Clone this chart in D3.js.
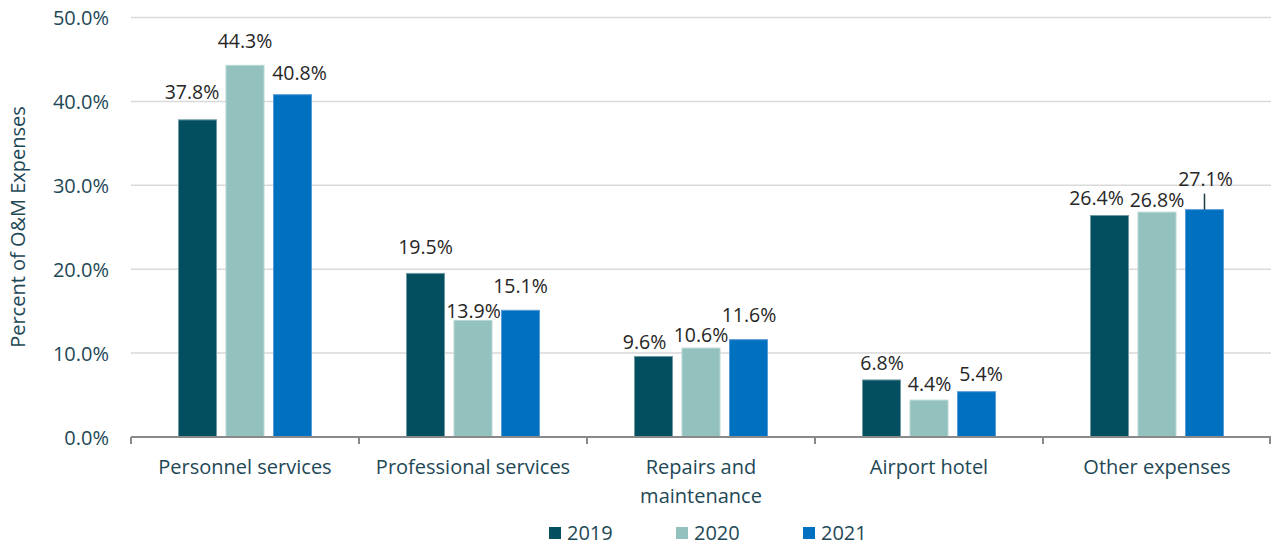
<!DOCTYPE html>
<html>
<head>
<meta charset="utf-8">
<script src="https://cdn.jsdelivr.net/npm/d3@7"></script>
<style>
  html, body { margin: 0; padding: 0; background: #fff; }
  svg { display: block; font-family: "Open Sans", "Noto Sans", sans-serif; }
</style>
</head>
<body>
<svg id="chart" width="1271" height="546"></svg>
<script>
// ---- data ----
const categories = ["Personnel services", "Professional services", "Repairs and maintenance", "Airport hotel", "Other expenses"];
const seriesNames = ["2019", "2020", "2021"];
const values2019 = [37.8, 19.5, 9.6, 6.8, 26.4];
const values2020 = [44.3, 13.9, 10.6, 4.4, 26.8];
const values2021 = [40.8, 15.1, 11.6, 5.4, 27.1];
const yTicks = [0, 10, 20, 30, 40, 50];

// ---- layout / style (not data) ----
const colors = ["#034f5f", "#93c1be", "#0070c0"];
const strokes = ["#6f9aa3", "#b9d8d6", "#5b9bd5"];
// label offsets relative to bar centre / bar top (Excel-style placement)
const labelDx = [[-5.5, 0, 7], [0, 0.5, 0], [-9, 0, 0.5], [0.5, 0.5, 4.5], [-13, 0, 1]];
const labelDy = [[-28, -24, -22], [-26, -9, -24], [-14, -12.5, -24.5], [-17, -16, -18], [-17.5, -12, -30]];
const leader = [[false, false, false], [false, false, false], [false, false, false], [false, false, false], [false, false, true]];

const allValues = [values2019, values2020, values2021];
const svg = d3.select("#chart");
const plotLeft = 131, plotRight = 1271, plotTop = 17.5, plotBottom = 437;

const x0 = d3.scaleBand().domain(categories).range([plotLeft, plotRight]).paddingInner(0).paddingOuter(0);
const groupW = 142.5;
const x1 = d3.scaleBand().domain(seriesNames).range([-groupW / 2, groupW / 2]).paddingInner(0.2).paddingOuter(0.1);
const y = d3.scaleLinear().domain([0, 50]).range([plotBottom, plotTop]);

// gridlines
svg.append("g")
  .selectAll("line")
  .data(yTicks.filter(t => t > 0))
  .join("line")
  .attr("x1", plotLeft).attr("x2", plotRight)
  .attr("y1", d => y(d)).attr("y2", d => y(d))
  .attr("stroke", "#d9d9d9").attr("stroke-width", 1.5);

// y axis labels
const yAxis = d3.axisLeft(y).tickValues(yTicks).tickFormat(d => d.toFixed(1) + "%").tickSize(0).tickPadding(0);
const yg = svg.append("g").attr("transform", `translate(109,0)`).call(yAxis);
yg.select(".domain").remove();
yg.selectAll("text").attr("font-size", 20).attr("fill", "#1e4856").attr("font-family", "Open Sans").attr("dy", "0.35em");

// y title
svg.append("text")
  .attr("transform", `translate(25,227) rotate(-90)`)
  .attr("text-anchor", "middle")
  .attr("font-size", 20)
  .attr("fill", "#1e4856")
  .text("Percent of O&M Expenses");

// bars
const rows = categories.map((c, ci) => seriesNames.map((s, si) => ({ c, ci, s, si, v: allValues[si][ci] })));
const gGroups = svg.append("g").selectAll("g")
  .data(rows).join("g")
  .attr("transform", d => `translate(${x0(d[0].c) + x0.bandwidth() / 2},0)`);

gGroups.selectAll("rect")
  .data(d => d).join("rect")
  .attr("x", d => x1(d.s))
  .attr("width", x1.bandwidth())
  .attr("y", d => y(d.v))
  .attr("height", d => y(0) - y(d.v))
  .attr("fill", d => colors[d.si])
  .attr("stroke", d => strokes[d.si])
  .attr("stroke-width", 1);

// leader lines
gGroups.selectAll("line.leader")
  .data(d => d.filter(e => leader[e.ci][e.si])).join("line")
  .attr("class", "leader")
  .attr("x1", d => x1(d.s) + x1.bandwidth() / 2)
  .attr("x2", d => x1(d.s) + x1.bandwidth() / 2)
  .attr("y1", d => y(d.v) + labelDy[d.ci][d.si] + 14)
  .attr("y2", d => y(d.v))
  .attr("stroke", "#1e3a44").attr("stroke-width", 1.5);

// data labels
gGroups.selectAll("text.lbl")
  .data(d => d).join("text")
  .attr("class", "lbl")
  .attr("x", d => x1(d.s) + x1.bandwidth() / 2 + labelDx[d.ci][d.si])
  .attr("y", d => y(d.v) + labelDy[d.ci][d.si])
  .attr("dy", "0.35em")
  .attr("text-anchor", "middle")
  .attr("font-size", 19.5)
  .attr("fill", "#262626")
  .text(d => d.v.toFixed(1) + "%");

// x axis
svg.append("line")
  .attr("x1", plotLeft).attr("x2", plotRight).attr("y1", plotBottom).attr("y2", plotBottom)
  .attr("stroke", "#898989").attr("stroke-width", 2);
const tickPos = categories.map(c => x0(c)).concat([plotRight - 1]);
svg.append("g").selectAll("line")
  .data(tickPos).join("line")
  .attr("x1", d => d).attr("x2", d => d)
  .attr("y1", plotBottom).attr("y2", plotBottom + 7)
  .attr("stroke", "#898989").attr("stroke-width", 2);

// category labels with wrapping
const catG = svg.append("g");
categories.forEach(c => {
  const cx = x0(c) + x0.bandwidth() / 2;
  const t = catG.append("text")
    .attr("x", cx)
    .attr("y", 474)
    .attr("text-anchor", "middle")
    .attr("font-size", 20)
    .attr("fill", "#1e4856");
  const words = c.split(" ");
  let line = [];
  let ts = t.append("tspan").attr("x", cx).attr("dy", 0);
  words.forEach(w => {
    line.push(w);
    ts.text(line.join(" "));
    if (ts.node().getComputedTextLength() > 210 && line.length > 1) {
      line.pop();
      ts.text(line.join(" "));
      line = [w];
      ts = t.append("tspan").attr("x", cx).attr("dy", 29).text(w);
    }
  });
});

// legend
const leg = svg.append("g").selectAll("g")
  .data(seriesNames).join("g")
  .attr("transform", (d, i) => `translate(${549 + i * 127},0)`);
leg.append("rect")
  .attr("x", 0).attr("y", 527).attr("width", 12).attr("height", 12)
  .attr("fill", (d, i) => colors[i]);
leg.append("text")
  .attr("x", 18).attr("y", 533).attr("dy", "0.35em")
  .attr("font-size", 20).attr("fill", "#1e4856")
  .text(d => d);
</script>
</body>
</html>
